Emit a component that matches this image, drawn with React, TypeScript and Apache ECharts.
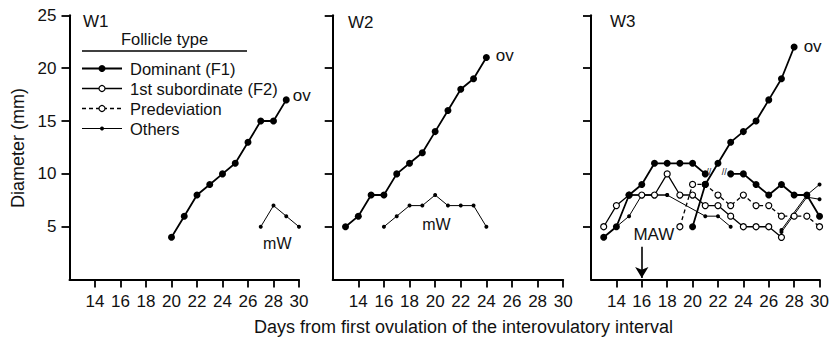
import React, { useEffect, useRef } from "react";
import * as echarts from "echarts";

const FONT = '"Liberation Sans", Arial, Helvetica, sans-serif';

// Tick labels
const xTicks = [14, 16, 18, 20, 22, 24, 26, 28, 30];
const yTicks = [5, 10, 15, 20, 25];
const panelNames = ["W1", "W2", "W3"];
const legendNames = ["Dominant (F1)", "1st subordinate (F2)", "Predeviation", "Others"];

// W1
const w1Dominant = [[20, 4], [21, 6], [22, 8], [23, 9], [24, 10], [25, 11], [26, 13], [27, 15], [28, 15], [29, 17]];
const w1Others = [[27, 5], [28, 7], [29, 6], [30, 5]];

// W2
const w2Dominant = [[13, 5], [14, 6], [15, 8], [16, 8], [17, 10], [18, 11], [19, 12], [20, 14], [21, 16], [22, 18], [23, 19], [24, 21]];
const w2Others = [[16, 5], [17, 6], [18, 7], [19, 7], [20, 8], [21, 7], [22, 7], [23, 7], [24, 5]];

// W3
const w3DominantMAW = [[13, 4], [14, 5], [15, 8], [16, 9], [17, 11], [18, 11], [19, 11], [20, 11], [21, 10], [22, null], [23, 10], [24, 10], [25, 9], [26, 8], [27, 9], [28, 8], [29, 8], [30, 6]];
const w3DominantOv = [[20, 5], [21, 9], [22, 11], [23, 13], [24, 14], [25, 15], [26, 17], [27, 19], [28, 22]];
const w3Subordinate = [[13, 5], [14, 7], [15, 8], [16, 8], [17, 8], [18, 10], [19, 8], [20, 8], [21, 7], [22, 7], [23, 6], [24, 5], [25, 5], [26, 5], [27, 4]];
const w3Predeviation = [[19, 5], [20, 9], [21, 9], [22, 8], [23, 7], [24, 8], [25, 7], [26, 7], [27, 6], [28, 6], [29, 6], [30, 5]];
const w3OthersA = [[14, 5], [15, 6], [16, 8], [17, 8], [18, 8], [21, 6], [22, 6], [23, 5]];
const w3OthersB = [[15, 8], [16, 8], [17, 8], [18, 8]];
const w3OthersC = [[27, 4.7], [29, 8], [30, 9]];
const w3OthersD = [[27, 4.5], [29, 7.8], [30, 7.6]];

// Annotations (data coordinates)
const annotations = [
  { panel: 0, pos: [28.3, 3.4], text: "mW", size: 16 },
  { panel: 1, pos: [20.1, 5.25], text: "mW", size: 16 },
  { panel: 2, pos: [16.95, 4.3], text: "MAW", size: 17 },
  { panel: 2, pos: [21.27, 10.2], text: "//", size: 9 },
  { panel: 2, pos: [22.5, 10.2], text: "//", size: 9 },
];
const mawArrow = { panel: 2, from: [16, 3.1], to: [16, 0.15] };

const gridLeft = [69.5, 332.7, 591];
const gridWidth = [229.5, 230.5, 230.7];

type Kind = "dom" | "sub" | "pred" | "oth";

function styleFor(kind: Kind) {
  if (kind === "dom")
    return { symbolSize: 7, itemStyle: { color: "#000" }, lineStyle: { color: "#000", width: 1.8 } };
  if (kind === "sub")
    return { symbolSize: 6, itemStyle: { color: "#fff", borderColor: "#000", borderWidth: 1.2 }, lineStyle: { color: "#000", width: 1.3 } };
  if (kind === "pred")
    return { symbolSize: 6, itemStyle: { color: "#fff", borderColor: "#000", borderWidth: 1.2 }, lineStyle: { color: "#000", width: 1.3, type: [4, 3] } };
  return { symbolSize: 4, itemStyle: { color: "#000" }, lineStyle: { color: "#000", width: 1 } };
}

function mkSeries(panel: number, kind: Kind, data: any[], ovLabel?: { dist: number; off: number[] }, z = 2) {
  const st = styleFor(kind);
  const d = data.map((p, i) => {
    if (ovLabel && i === data.length - 1) {
      return {
        value: p,
        label: {
          show: true,
          formatter: "ov",
          position: "right",
          distance: ovLabel.dist,
          offset: ovLabel.off,
          fontSize: 17,
          fontFamily: FONT,
          color: "#111",
        },
      };
    }
    return p;
  });
  return {
    type: "line",
    xAxisIndex: panel,
    yAxisIndex: panel,
    data: d,
    symbol: "circle",
    showSymbol: true,
    connectNulls: false,
    z,
    ...st,
  };
}

export default function App() {
  const ref = useRef<HTMLDivElement>(null);
  useEffect(() => {
    if (!ref.current) return;
    const chart = echarts.init(ref.current, null, { renderer: "svg" });

    const grids = [0, 1, 2].map((i) => ({ left: gridLeft[i], width: gridWidth[i], top: 15.3, height: 264.3 }));
    const xAxes = [0, 1, 2].map((i) => ({
      type: "value",
      gridIndex: i,
      min: 12,
      max: 30,
      splitLine: { show: false },
      axisLine: { lineStyle: { color: "#000", width: 2 } },
      axisTick: { show: true, length: 8, customValues: xTicks, lineStyle: { color: "#000", width: 1.8 } },
      axisLabel: { customValues: xTicks, fontSize: 17, fontFamily: FONT, color: "#111", margin: 13 },
    }));
    const yAxes = [0, 1, 2].map((i) => ({
      type: "value",
      gridIndex: i,
      min: 0,
      max: 25,
      splitLine: { show: false },
      axisLine: { show: true, lineStyle: { color: "#000", width: 2 } },
      axisTick: { show: true, length: 8, customValues: yTicks, lineStyle: { color: "#000", width: 1.8 } },
      axisLabel: { show: i === 0, customValues: yTicks, fontSize: 17, fontFamily: FONT, color: "#111", margin: 13 },
    }));

    const series: any[] = [
      mkSeries(0, "oth", w1Others),
      mkSeries(0, "dom", w1Dominant, { dist: 3, off: [0, -4] }, 5),
      mkSeries(1, "oth", w2Others),
      mkSeries(1, "dom", w2Dominant, { dist: 6, off: [0, -2] }, 5),
      mkSeries(2, "oth", w3OthersA),
      mkSeries(2, "oth", w3OthersB),
      mkSeries(2, "oth", w3OthersC),
      mkSeries(2, "oth", w3OthersD),
      mkSeries(2, "sub", w3Subordinate, undefined, 3),
      mkSeries(2, "pred", w3Predeviation, undefined, 3),
      mkSeries(2, "dom", w3DominantMAW, undefined, 4),
      mkSeries(2, "dom", w3DominantOv, { dist: 6, off: [0, -1] }, 5),
    ];

    [0, 1, 2].forEach((p) => {
      const items = annotations.filter((a) => a.panel === p);
      if (items.length === 0) return;
      series.push({
        type: "scatter",
        xAxisIndex: p,
        yAxisIndex: p,
        symbol: "circle",
        symbolSize: 1,
        itemStyle: { color: "#fff", opacity: 1 },
        z: 6,
        data: items.map((a) => ({
          value: a.pos,
          label: {
            show: true,
            formatter: a.text,
            position: "inside",
            fontSize: a.size,
            fontFamily: FONT,
            color: "#111",
            textBorderWidth: 0,
            opacity: 1,
          },
        })),
      });
    });

    series.push({
      type: "line",
      xAxisIndex: mawArrow.panel,
      yAxisIndex: mawArrow.panel,
      data: [],
      markLine: {
        silent: true,
        symbol: ["none", "arrow"],
        symbolSize: [10, 11],
        label: { show: false },
        lineStyle: { color: "#000", width: 1.6, type: "solid" },
        data: [[{ coord: mawArrow.from }, { coord: mawArrow.to }]],
      },
    });

    const legendRows = [68.5, 88.5, 108.5, 128.5];
    const legendKinds: Kind[] = ["dom", "sub", "pred", "oth"];
    const legendGraphics: any[] = [];
    legendKinds.forEach((k, i) => {
      const y = legendRows[i];
      const st = styleFor(k);
      legendGraphics.push({
        type: "line",
        shape: { x1: 82, y1: y, x2: 122, y2: y },
        style: { stroke: "#000", lineWidth: st.lineStyle.width, lineDash: k === "pred" ? [4, 3] : null },
      });
      legendGraphics.push({
        type: "circle",
        shape: { cx: 102, cy: y, r: st.symbolSize / 2 },
        style: {
          fill: k === "sub" || k === "pred" ? "#fff" : "#000",
          stroke: "#000",
          lineWidth: k === "sub" || k === "pred" ? 1.2 : 0,
        },
      });
      legendGraphics.push({
        type: "text",
        x: 130,
        y: y,
        style: { text: legendNames[i], fontSize: 16.5, fontFamily: FONT, fill: "#111", verticalAlign: "middle", align: "left" },
      });
    });

    const panelLabelPos = [[83, 21], [348, 22], [610, 21.5]];

    chart.setOption({
      animation: false,
      backgroundColor: "#fff",
      grid: grids,
      xAxis: xAxes,
      yAxis: yAxes,
      series,
      graphic: [
        ...panelNames.map((n, i) => ({
          type: "text",
          x: panelLabelPos[i][0],
          y: panelLabelPos[i][1],
          style: { text: n, fontSize: 17, fontFamily: FONT, fill: "#111", verticalAlign: "middle" },
        })),
        {
          type: "text",
          x: 164.5,
          y: 39,
          style: { text: "Follicle type", fontSize: 16.5, fontFamily: FONT, fill: "#111", align: "center", verticalAlign: "middle" },
        },
        { type: "line", shape: { x1: 82, y1: 51, x2: 247, y2: 51 }, style: { stroke: "#000", lineWidth: 1.5 } },
        ...legendGraphics,
        {
          type: "text",
          x: 463.5,
          y: 327,
          style: {
            text: "Days from first ovulation of the interovulatory interval",
            fontSize: 18,
            fontFamily: FONT,
            fill: "#111",
            align: "center",
            verticalAlign: "middle",
          },
        },
        {
          type: "text",
          x: 18,
          y: 148,
          rotation: Math.PI / 2,
          style: { text: "Diameter (mm)", fontSize: 18, fontFamily: FONT, fill: "#111", align: "center", verticalAlign: "middle" },
        },
      ],
    });
    return () => chart.dispose();
  }, []);
  return <div ref={ref} style={{ position: "fixed", left: 0, top: 0, width: 832, height: 339 }} />;
}
